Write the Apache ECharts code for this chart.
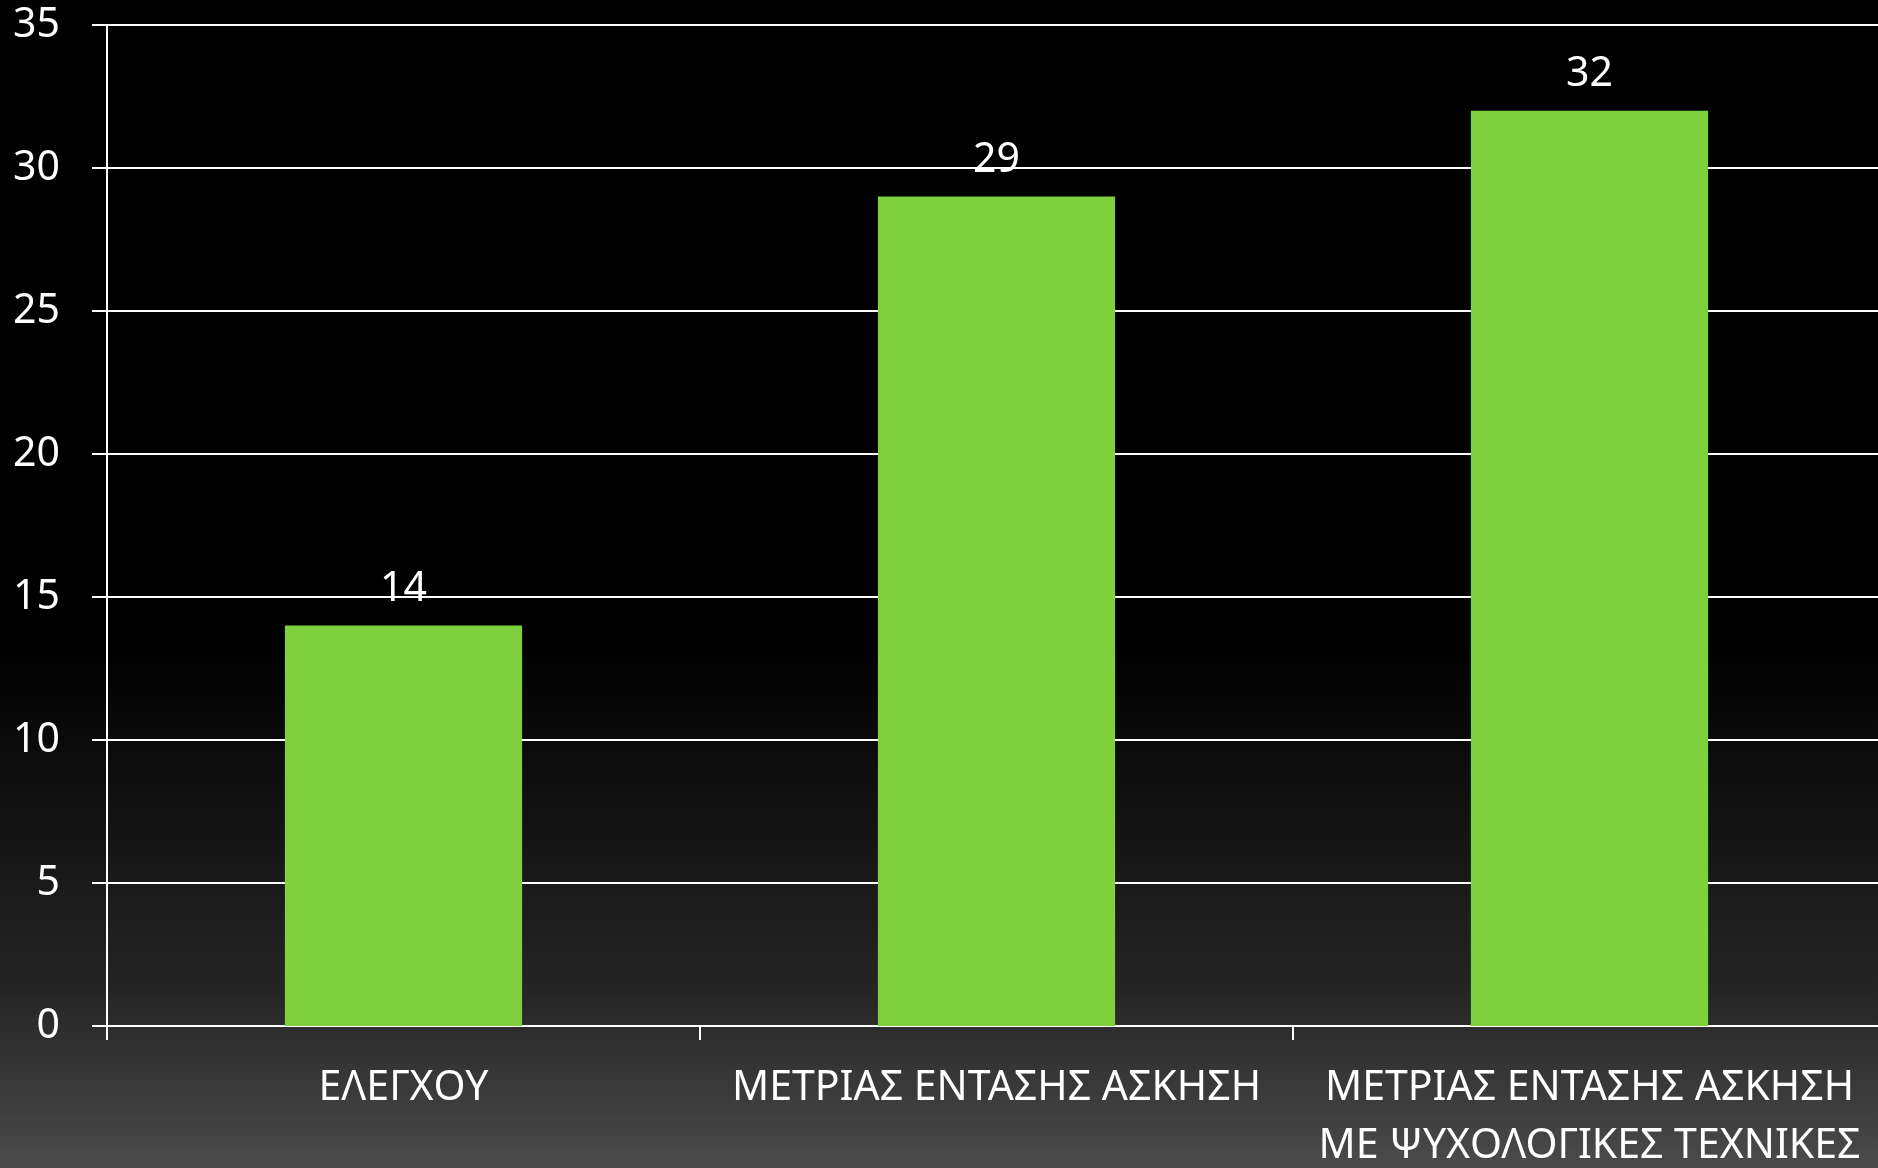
<!DOCTYPE html>
<html><head><meta charset="utf-8">
<script src="https://cdn.jsdelivr.net/npm/echarts@6/dist/echarts.min.js"></script>
<style>html,body{margin:0;padding:0;background:#000;}#c{width:1878px;height:1168px;}</style>
</head><body><div id="c"></div>
<script>
const categories = ['ΕΛΕΓΧΟΥ', 'ΜΕΤΡΙΑΣ ΕΝΤΑΣΗΣ ΑΣΚΗΣΗ', 'ΜΕΤΡΙΑΣ ΕΝΤΑΣΗΣ ΑΣΚΗΣΗ\nΜΕ ΨΥΧΟΛΟΓΙΚΕΣ ΤΕΧΝΙΚΕΣ'];
const values = [14, 29, 32];
const yTicks = [0, 5, 10, 15, 20, 25, 30, 35];
const FONT = 'Noto Sans';
const chart = echarts.init(document.getElementById('c'));
chart.setOption({
  backgroundColor: {type:'linear', x:0, y:0, x2:0, y2:1, colorStops:[
    {offset:0, color:'#000000'}, {offset:0.55, color:'#000000'}, {offset:0.85, color:'#252525'}, {offset:1, color:'#4b4b4b'}]},
  animation:false,
  grid:{left:107, right:-8, top:25, bottom:142, containLabel:false, outerBoundsMode:'none'},
  xAxis:{type:'category', data:categories,
    axisLine:{lineStyle:{color:'#ffffff', width:2}},
    axisTick:{show:true, length:14, lineStyle:{color:'#ffffff', width:2}},
    axisLabel:{color:'#ffffff', fontFamily:FONT, fontSize:41, margin:33, lineHeight:58, interval:0}},
  yAxis:{type:'value', min:yTicks[0], max:yTicks[yTicks.length-1], interval:5,
    axisLine:{show:true, lineStyle:{color:'#ffffff', width:2}},
    axisTick:{show:true, length:15, lineStyle:{color:'#ffffff', width:2}},
    splitLine:{lineStyle:{color:'#ffffff', width:2}},
    axisLabel:{color:'#ffffff', fontFamily:FONT, fontSize:41, margin:47}},
  series:[{type:'bar', data:values, barWidth:'40%',
    itemStyle:{color:'#7ed13c'},
    label:{show:true, position:'top', color:'#ffffff', fontFamily:FONT, fontSize:41, distance:16}}]
});
</script></body></html>
